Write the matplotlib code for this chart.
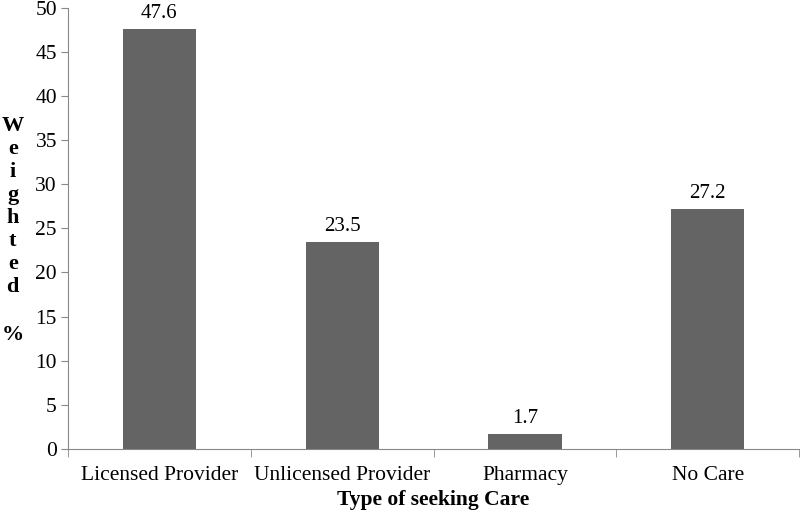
import matplotlib.pyplot as plt
import numpy as np

# data
categories = ['Licensed Provider', 'Unlicensed Provider', 'Pharmacy', 'No Care']
weighted_pct = [47.6, 23.5, 1.7, 27.2]
y_ticks = [0, 5, 10, 15, 20, 25, 30, 35, 40, 45, 50]

plt.rcParams['font.family'] = ['Liberation Serif', 'DejaVu Serif']

fig = plt.figure(figsize=(8, 5.22), dpi=100)
ax = fig.add_axes([0.085, 0.140, 0.914, 0.845])

x = np.arange(len(categories))
bars = ax.bar(x, weighted_pct, width=0.4, color='#646464', zorder=2)

# value labels on top of bars
for b, v in zip(bars, weighted_pct):
    ax.annotate('{:.1f}'.format(v), (b.get_x() + b.get_width() / 2, v),
                xytext=(0, 4), textcoords='offset points',
                ha='center', va='bottom', fontsize=15)

ax.set_xlim(-0.5, len(categories) - 0.5)
ax.set_ylim(0, 50)
ax.set_yticks(y_ticks)
ax.tick_params(axis='y', labelsize=15.5, length=5, color='#888888', pad=3)

# category labels centred, tick marks on the boundaries
ax.set_xticks(x)
ax.set_xticklabels(categories, fontsize=15.5)
ax.tick_params(axis='x', which='major', length=0, pad=12)
ax.set_xticks(np.arange(-0.5, len(categories)), minor=True)
ax.tick_params(axis='x', which='minor', length=6, color='#888888')

for s in ['top', 'right']:
    ax.spines[s].set_visible(False)
for s in ['left', 'bottom']:
    ax.spines[s].set_color('#888888')

# stacked y label
fig.text(0.016, 0.778, '\n'.join('Weighted'), fontsize=16, fontweight='bold',
         ha='center', va='top', linespacing=1.2)
fig.text(0.016, 0.358, '%', fontsize=16, fontweight='bold', ha='center', va='center')

ax.set_xlabel('Type of seeking Care', fontsize=15.5, fontweight='bold', labelpad=4)

fig.savefig('out.png', dpi=100)
